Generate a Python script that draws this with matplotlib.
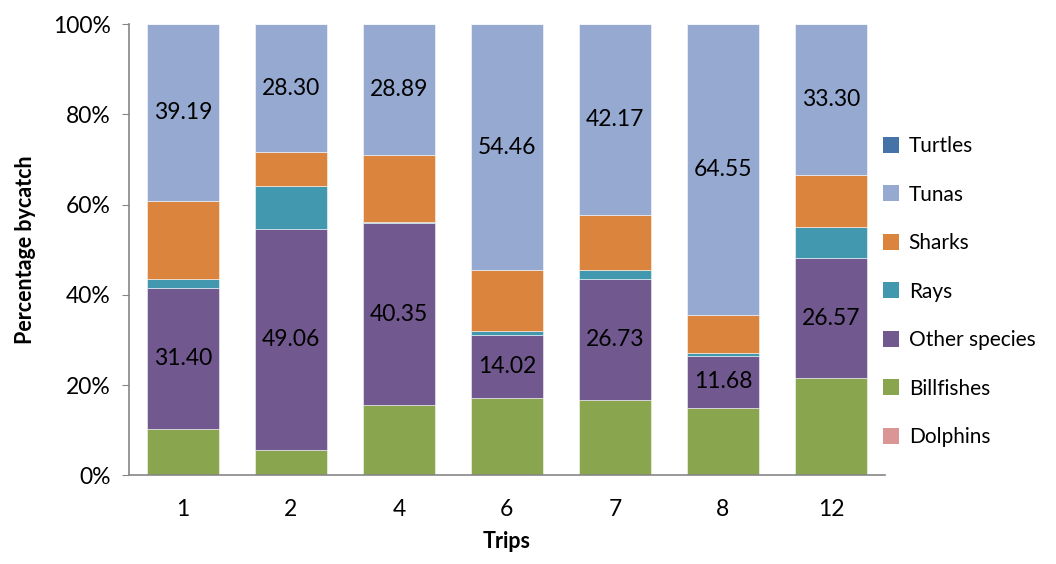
import matplotlib.pyplot as plt
import numpy as np
from matplotlib.patches import Patch

plt.rcParams['font.family'] = ['Lato', 'DejaVu Sans']

trips = ["1", "2", "4", "6", "7", "8", "12"]

# percentages per trip, stacked bottom to top
dolphins = [0, 0, 0, 0, 0, 0, 0]
billfishes = [10.2, 5.65, 15.6, 17.1, 16.7, 14.9, 21.6]
other_species = [31.40, 49.06, 40.35, 14.02, 26.73, 11.68, 26.57]
rays = [2.0, 9.5, 0.3, 1.0, 2.2, 0.6, 6.8]
sharks = [17.21, 7.49, 14.86, 13.42, 12.2, 8.37, 11.73]
tunas = [39.19, 28.30, 28.89, 54.46, 42.17, 64.55, 33.30]
turtles = [0, 0, 0, 0, 0, 0, 0]

series = [
    ("Dolphins", dolphins, "#D99694"),
    ("Billfishes", billfishes, "#89A54E"),
    ("Other species", other_species, "#71588F"),
    ("Rays", rays, "#4198AF"),
    ("Sharks", sharks, "#DB843D"),
    ("Tunas", tunas, "#95A9D1"),
    ("Turtles", turtles, "#4572A7"),
]
labelled = {"Other species", "Tunas"}
fs = 16.5

fig = plt.figure(figsize=(10.56, 5.64), dpi=100)
ax = fig.add_axes([0.122, 0.157, 0.716, 0.800])

x = np.arange(len(trips))
bottom = np.zeros(len(trips))
for name, vals, col in series:
    vals = np.array(vals, dtype=float)
    ax.bar(x, vals, 0.667, bottom=bottom, color=col,
           edgecolor=(1, 1, 1, 0.6), linewidth=0.6)
    if name in labelled:
        for xi, b, v in zip(x, bottom, vals):
            ax.text(xi, b + v / 2, f"{v:.2f}", ha="center", va="center",
                    fontsize=fs, color="black")
    bottom += vals

ax.set_xlim(-0.5, len(trips) - 0.5)
ax.set_ylim(0, 100)
ax.set_yticks(np.arange(0, 101, 20))
ax.set_yticklabels([f"{v}%" for v in range(0, 101, 20)])
ax.set_xticks(x)
ax.set_xticklabels(trips)
ax.tick_params(axis="y", length=5, color="#868686", labelsize=fs, pad=8)
ax.tick_params(axis="x", length=0, labelsize=fs, pad=17)
for side in ("top", "right"):
    ax.spines[side].set_visible(False)
for side in ("left", "bottom"):
    ax.spines[side].set_color("#868686")
    ax.spines[side].set_linewidth(1.2)

ax.set_ylabel("Percentage bycatch", fontsize=15.5, fontweight="bold", labelpad=12)
ax.set_xlabel("Trips", fontsize=15.5, fontweight="bold", labelpad=8)

handles = [Patch(facecolor=col, label=name) for name, _, col in reversed(series)]
fig.legend(handles=handles, loc="center left", bbox_to_anchor=(0.822, 0.483),
           frameon=False, fontsize=15, handlelength=0.8, handleheight=0.8,
           handletextpad=0.45, labelspacing=1.37, borderpad=0.2)

fig.savefig("out.png", dpi=100)
